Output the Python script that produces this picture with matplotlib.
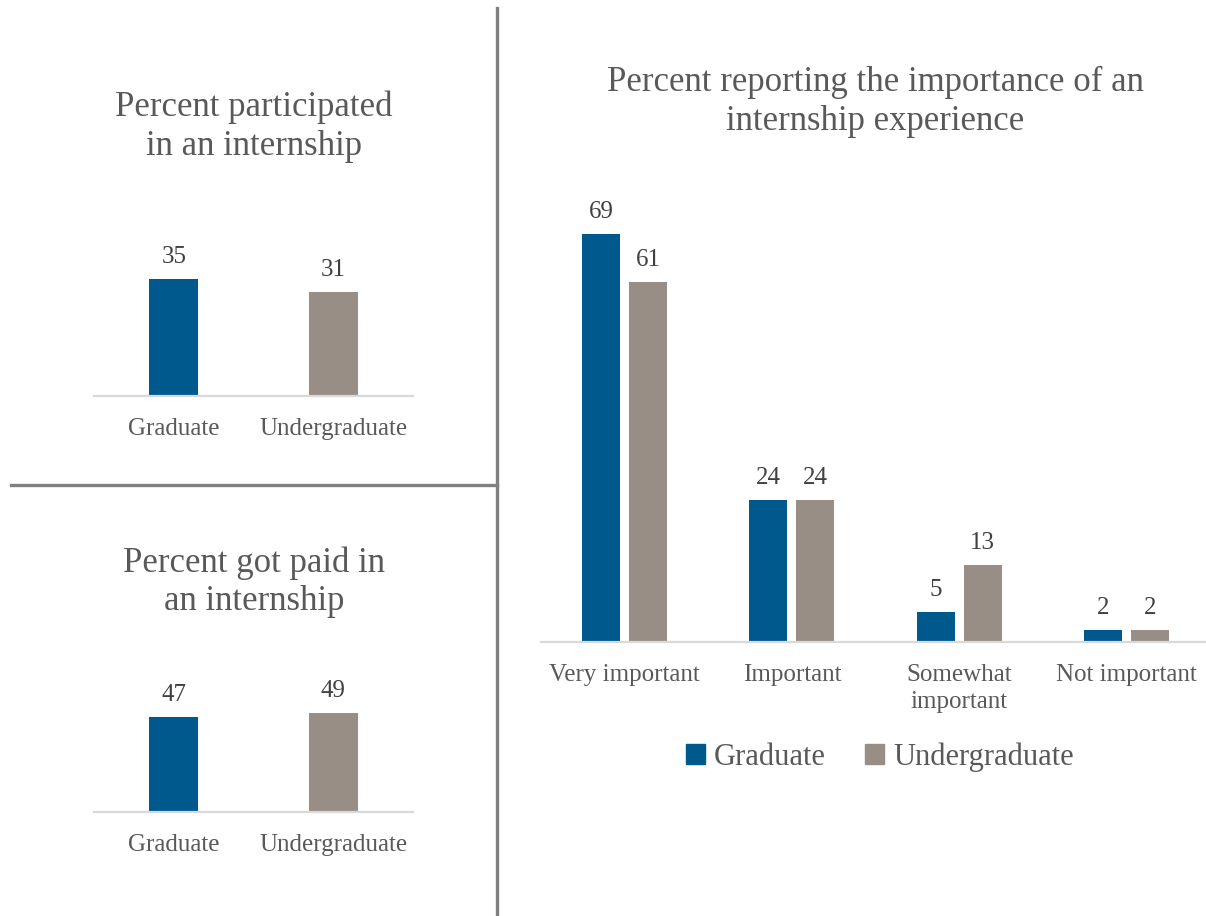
import numpy as np
import matplotlib.pyplot as plt
from matplotlib.lines import Line2D
from matplotlib.patches import Patch

plt.rcParams['font.family'] = ['Liberation Serif', 'DejaVu Serif']

# data
groups = ["Graduate", "Undergraduate"]
participated = [35, 31]
paid = [47, 49]
importance_cats = ["Very important", "Important", "Somewhat\nimportant", "Not important"]
importance_grad = [69, 24, 5, 2]
importance_ugrad = [61, 24, 13, 2]

BLUE = "#00598c"
TAUPE = "#988e85"
TEXT = "#595959"
VAL = "#404040"
AXIS = "#d9d9d9"

W, H = 1206, 916
fig = plt.figure(figsize=(W / 100, H / 100), dpi=100)


def px_axes(left, right, bottom, top):
    return fig.add_axes([left / W, 1 - bottom / H, (right - left) / W, (bottom - top) / H])


def style(ax, labels, ymax):
    ax.set_ylim(0, ymax)
    ax.set_xlim(-0.5, len(labels) - 0.5)
    for s in ["top", "left", "right"]:
        ax.spines[s].set_visible(False)
    ax.spines["bottom"].set_color(AXIS)
    ax.spines["bottom"].set_linewidth(1.6)
    ax.set_yticks([])
    ax.set_xticks(range(len(labels)))
    ax.set_xticklabels(labels, fontsize=18, color=TEXT, linespacing=1.3)
    ax.tick_params(axis="x", length=0, pad=16)
    ax.patch.set_alpha(0)


def labels_on(ax, bars, vals):
    for b, v in zip(bars, vals):
        ax.annotate(str(v), (b.get_x() + b.get_width() / 2, b.get_height()),
                    xytext=(0, 8), textcoords="offset points", ha="center", va="bottom",
                    fontsize=18, color=VAL, annotation_clip=False)


# top-left: participated
ax1 = px_axes(94, 413, 396, 229)
bars = ax1.bar(range(2), participated, width=0.31, color=[BLUE, TAUPE])
style(ax1, groups, 50)
labels_on(ax1, bars, participated)
fig.text(254 / W, 1 - 127 / H, "Percent participated\nin an internship", ha="center", va="center",
         fontsize=25, color=TEXT, linespacing=1.22)

# bottom-left: paid
ax2 = px_axes(94, 413, 812, 691)
bars = ax2.bar(range(2), paid, width=0.31, color=[BLUE, TAUPE])
style(ax2, groups, 60)
labels_on(ax2, bars, paid)
fig.text(254 / W, 1 - 582 / H, "Percent got paid in\nan internship", ha="center", va="center",
         fontsize=25, color=TEXT, linespacing=1.22)

# right: importance
ax3 = px_axes(541, 1210, 642, 199)
x = np.arange(len(importance_cats))
off = 0.1405
b1 = ax3.bar(x - off, importance_grad, width=0.227, color=BLUE, label="Graduate")
b2 = ax3.bar(x + off, importance_ugrad, width=0.227, color=TAUPE, label="Undergraduate")
style(ax3, importance_cats, 75)
labels_on(ax3, b1, importance_grad)
labels_on(ax3, b2, importance_ugrad)
fig.text(875 / W, 1 - 102 / H, "Percent reporting the importance of an\ninternship experience",
         ha="center", va="center", fontsize=25, color=TEXT, linespacing=1.22)

handles = [Patch(color=BLUE, label="Graduate"), Patch(color=TAUPE, label="Undergraduate")]
fig.legend(handles=handles, loc="center", bbox_to_anchor=(880 / W, 1 - 757 / H), ncol=2,
           frameon=False, fontsize=22, labelcolor=TEXT, handlelength=0.6, handleheight=0.6,
           handletextpad=0.3, columnspacing=1.3)

# divider lines
fig.add_artist(Line2D([497 / W, 497 / W], [0, 1 - 8 / H], color="#808080", lw=2.4))
fig.add_artist(Line2D([11 / W, 497 / W], [1 - 485 / H, 1 - 485 / H], color="#808080", lw=2.4))

fig.savefig("out.png", dpi=100, facecolor="white")
